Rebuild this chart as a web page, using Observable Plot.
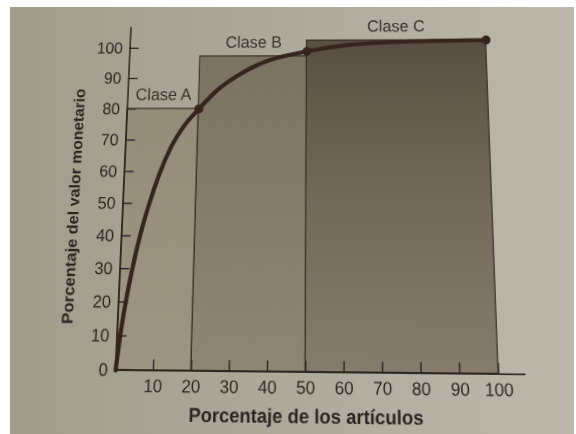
<!DOCTYPE html>
<html>
<head>
<meta charset="utf-8">
<script src="https://cdn.jsdelivr.net/npm/d3@7"></script>
<script src="https://cdn.jsdelivr.net/npm/@observablehq/plot@0.6"></script>
<style>
html, body { margin: 0; padding: 0; background: #ffffff; }
#paper { position: absolute; left: 10px; top: 7px; width: 564px; height: 427px; overflow: hidden;
  background: linear-gradient(90deg, #a29c8d 0%, #aaa596 35%, #b4b0a4 72%, #bcb8ac 100%); }
#chart { position: absolute; left: -10px; top: -7px; }
</style>
</head>
<body>
<div id="paper"><div id="chart"></div></div>
<script>
// ---- data ----
const classNames = ["Clase A", "Clase B", "Clase C"];
const classStart = [0, 20, 50];
const classEnd = [20, 50, 100];
const classTop = [80, 97.2, 102.4];

const curveX = [0, 0.8, 1.9, 3.3, 5.0, 7.2, 9.6, 12.5, 16, 20, 25.4, 30.8, 38, 50, 61, 79.5, 100];
const curveY = [0, 10, 20, 30, 40, 50, 59, 67.5, 74.5, 80, 86.5, 91, 95.3, 98.8, 100.8, 102, 102.4];

const dotX = [20, 50, 100];
const dotY = [80, 98.8, 102.4];

const xTicks = [10, 20, 30, 40, 50, 60, 70, 80, 90, 100];
const yTicks = [0, 10, 20, 30, 40, 50, 60, 70, 80, 90, 100];
const axisEnd = 107;

const xTitle = "Porcentaje de los artículos";
const yTitle = "Porcentaje del valor monetario";

// ---- styling ----
const ink = "#2b2520";
const curveInk = "#36251e";
const fills = ["url(#gA)", "url(#gB)", "url(#gC)"];
const W = 576, H = 434, mL = 115, mR = 76, mT = 48, mB = 63;

const curve = curveX.map((x, i) => ({x, y: curveY[i]}));
const dots = dotX.map((x, i) => ({x, y: dotY[i]}));
const idx = classNames.map((_, i) => i);

const plot = Plot.plot({
  width: W, height: H,
  marginLeft: mL, marginRight: mR, marginTop: mT, marginBottom: mB,
  x: {domain: [0, 100]},
  y: {domain: [0, 100]},
  style: {background: "transparent", fontFamily: "'Liberation Sans', Arial, sans-serif", color: ink},
  marks: [
    ...idx.map(i => Plot.rect([i], {
      x1: d => classStart[d], x2: d => classEnd[d], y1: 0, y2: d => classTop[d],
      fill: fills[i], stroke: "#3a3128", strokeWidth: 1.2
    })),
    Plot.text(idx, {
      x: d => (classStart[d] + classEnd[d]) / 2, y: d => classTop[d], text: d => classNames[d],
      dy: -15, fontSize: 17.5, fill: "#37322c"
    }),
    Plot.ruleY([0], {x1: 0, x2: axisEnd, stroke: ink, strokeWidth: 1.6}),
    Plot.ruleX([0], {y1: 0, y2: axisEnd, stroke: ink, strokeWidth: 1.6}),
    Plot.axisX(xTicks, {tickSize: 10, dy: -10, tickFormat: () => "", stroke: ink, strokeWidth: 1.4, label: null}),
    Plot.axisY(yTicks.filter(d => d > 0), {tickSize: 10, dx: 10, tickFormat: () => "", stroke: ink, strokeWidth: 1.4, label: null}),
    Plot.axisX(xTicks, {tickSize: 0, tickPadding: 8, fontSize: 17, fill: ink, label: null}),
    Plot.axisY(yTicks, {tickSize: 0, tickPadding: 8, fontSize: 17, fill: ink, label: null}),
    Plot.line(curve, {x: "x", y: "y", curve: "monotone-x", stroke: curveInk, strokeWidth: 4.4, strokeLinecap: "round"}),
    Plot.dot(dots, {x: "x", y: "y", r: 4.8, fill: curveInk, stroke: "none"}),
    Plot.text([xTitle], {frameAnchor: "bottom", dy: 41, lineAnchor: "middle", textAnchor: "middle", fontSize: 18.4, fontWeight: "bold", fill: ink}),
    Plot.text([yTitle], {frameAnchor: "left", dx: -52, dy: 0, rotate: -90, lineAnchor: "middle", textAnchor: "middle", fontSize: 16.2, fontWeight: "bold", fill: ink})
  ]
});

const ns = "http://www.w3.org/2000/svg";
const defs = document.createElementNS(ns, "defs");
defs.innerHTML = `
<linearGradient id="gA" x1="0" y1="0" x2="0" y2="1">
  <stop offset="0" stop-color="#958c7a"/><stop offset="1" stop-color="#9d9583"/>
</linearGradient>
<linearGradient id="gB" x1="0" y1="0" x2="0" y2="1">
  <stop offset="0" stop-color="#7b7261"/><stop offset="0.5" stop-color="#857c6b"/><stop offset="1" stop-color="#8e8674"/>
</linearGradient>
<linearGradient id="gC" x1="0" y1="0" x2="0" y2="1">
  <stop offset="0" stop-color="#584e41"/><stop offset="0.45" stop-color="#706759"/><stop offset="1" stop-color="#857c6d"/>
</linearGradient>`;
plot.insertBefore(defs, plot.firstChild);

// photo keystone: map the plot frame corners onto the photographed trapezoid
function homography(src, dst) {
  const A = [], b = [];
  for (let k = 0; k < 4; k++) {
    const [x, y] = src[k], [u, v] = dst[k];
    A.push([x, y, 1, 0, 0, 0, -x * u, -y * u]); b.push(u);
    A.push([0, 0, 0, x, y, 1, -x * v, -y * v]); b.push(v);
  }
  const n = 8;
  for (let c = 0; c < n; c++) {
    let p = c;
    for (let r = c + 1; r < n; r++) if (Math.abs(A[r][c]) > Math.abs(A[p][c])) p = r;
    [A[c], A[p]] = [A[p], A[c]]; [b[c], b[p]] = [b[p], b[c]];
    for (let r = 0; r < n; r++) {
      if (r === c) continue;
      const f = A[r][c] / A[c][c];
      for (let k = c; k < n; k++) A[r][k] -= f * A[c][k];
      b[r] -= f * b[c];
    }
  }
  return b.map((v, i) => v / A[i][i]);
}
const x0 = mL, x1 = W - mR, y0 = H - mB, y1 = mT;
const h = homography(
  [[x0, y0], [x1, y0], [x0, y1], [x1, y1]],
  [[115.5, 371], [500, 375], [130, 48], [487.5, 47]]
);
plot.style.display = "block";
plot.style.transformOrigin = "0 0";
plot.style.transform = `matrix3d(${h[0]},${h[3]},0,${h[6]},${h[1]},${h[4]},0,${h[7]},0,0,1,0,${h[2]},${h[5]},0,1)`;
document.getElementById("chart").appendChild(plot);
</script>
</body>
</html>
